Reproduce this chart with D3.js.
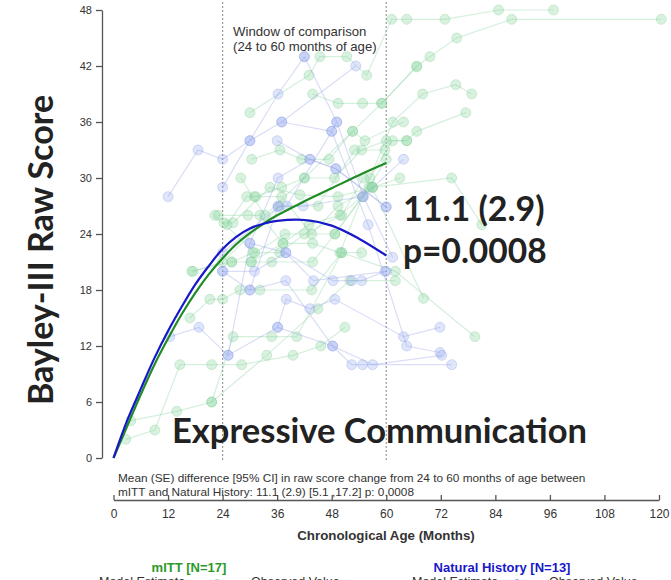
<!DOCTYPE html>
<html>
<head>
<meta charset="utf-8">
<script src="https://cdn.jsdelivr.net/npm/d3@7"></script>
<style>
  body { margin: 0; background: #fff; }
  svg text { font-family: "Liberation Sans", Arial, sans-serif; }
  .big { font-family: Lato, "Open Sans", sans-serif !important; font-weight: bold; fill: #222; }
</style>
</head>
<body>
<svg id="chart" width="671" height="580"></svg>
<script>
// model estimates (months / raw score)
var modelMonths = [0, 3, 6, 9, 12, 15, 18, 21, 24, 27, 30, 33, 36, 42, 48, 54, 60];
var mittModel = [0, 3.4, 6.8, 10.0, 12.8, 15.4, 17.7, 19.7, 21.4, 22.9, 24.1, 25.1, 26.0, 27.5, 28.9, 30.3, 31.6];
var nhModel = [0, 4.0, 7.4, 10.7, 13.6, 16.2, 18.6, 20.6, 22.4, 23.7, 24.6, 25.1, 25.4, 25.5, 24.9, 23.5, 21.7];

// observed values, one list of [month, score] per subject
var mittSubjects = [
  [[2.7, 2], [9.1, 3], [14.6, 10], [21.6, 10], [28.2, 10], [39.5, 11], [45.6, 12], [50.9, 14]],
  [[3.8, 4], [13.9, 5], [21.6, 6], [26.3, 13], [34.8, 13], [40.3, 13], [50.2, 22], [54.6, 22]],
  [[16.8, 15], [21.2, 17], [24, 17], [27.8, 18], [32.2, 18], [43.6, 18], [50.2, 22], [62, 20], [79.5, 13]],
  [[17.2, 20], [26, 21], [30.2, 21], [34.8, 21], [43.8, 21], [48.7, 24], [54.8, 28], [61.4, 36], [68, 39], [75.3, 40], [78.8, 39]],
  [[23, 26], [29.6, 26], [32.2, 26], [37.3, 23], [43.8, 23], [49.8, 22], [56.4, 30], [61.4, 34], [64.5, 34], [66.7, 35], [77.5, 37]],
  [[25, 25], [29.3, 28], [31, 28], [37, 28], [43.6, 24], [49.4, 27], [57, 29], [74.4, 30], [81, 25]],
  [[24.3, 25.2], [26.3, 25.2], [34.4, 29], [41, 28.2], [49.4, 28], [56.9, 29], [68.2, 17.1]],
  [[30.4, 32], [36.6, 33], [41.4, 32], [47.4, 32], [52.6, 35], [55.3, 34], [63.8, 36]],
  [[30, 37], [43, 41], [45.4, 43], [51.3, 43], [55.7, 41], [61.2, 47], [64.5, 47], [72.9, 47], [84.7, 48], [96.8, 48]],
  [[43.8, 39], [49.4, 38], [54.8, 38], [59, 38], [66.7, 42], [69.6, 43], [75.5, 45], [87.6, 47], [120.5, 47]],
  [[31.3, 28], [37, 29], [42, 30], [48.6, 30], [54.6, 33], [60, 34], [64.5, 34]],
  [[22.3, 26], [31.1, 22], [37.7, 24], [48.7, 24], [56.2, 29], [60, 32]],
  [[26, 21], [30.7, 22], [36.6, 22], [42, 24], [50.2, 26], [55, 30]],
  [[21.6, 6], [33.7, 11], [45, 16], [52, 19], [62, 19]],
  [[30.4, 21], [37.3, 23], [43, 25], [49.8, 26], [57, 29], [63, 30]],
  [[17.5, 20], [24, 21], [36.6, 27], [45, 27], [53, 33], [59.7, 33]],
  [[28, 30], [33.3, 26], [42, 30], [52.6, 35], [59, 38], [66.7, 41.9]]
];
var nhSubjects = [
  [[12, 28], [18.6, 33], [24, 32], [30, 34], [36.2, 39], [42, 43]],
  [[24, 29], [30, 34], [37, 36], [53.3, 42]],
  [[24, 20], [30, 18], [36.2, 27], [38.1, 27], [48, 35], [49.1, 36]],
  [[12.4, 13], [18.8, 14], [25.2, 11], [30, 23], [36.2, 30], [43.2, 32], [48.9, 31], [60, 26.9]],
  [[24, 22], [36.2, 26.9], [41.7, 27], [54.8, 28], [63.8, 32]],
  [[30, 23], [37.9, 22], [48.3, 19], [52.4, 19], [54.6, 19], [59.7, 20]],
  [[25.2, 11], [36.1, 14], [38, 17], [43.2, 16], [48.7, 17], [63.8, 13], [71.8, 14]],
  [[30, 18], [37.9, 19], [48.2, 12], [52.4, 10], [54.8, 10], [74.4, 10]],
  [[42, 43], [49.1, 36], [55, 28], [61.4, 21.5]],
  [[36, 34], [43.2, 32], [48.9, 31], [60, 26.9]],
  [[36.1, 14], [48.2, 12], [57, 10], [72.2, 11]],
  [[37, 36], [48, 35], [56, 25], [64.5, 12], [71.8, 11.3]],
  [[24, 20], [31, 20], [37.9, 22], [44, 19], [60, 20]]
];

var xTicks = [0, 12, 24, 36, 48, 60, 72, 84, 96, 108, 120];
var yTicks = [0, 6, 12, 18, 24, 30, 36, 42, 48];
var windowMonths = [24, 60];

var x = d3.scaleLinear().domain([0, 120]).range([113.5, 659]);
var y = d3.scaleLinear().domain([0, 48]).range([458, 10]);

var svg = d3.select('svg#chart');

var green = '#1f8c26', blue = '#1818c8';

// dotted window lines
svg.selectAll('line.win').data(windowMonths).enter().append('line')
  .attr('class', 'win')
  .attr('x1', d => x(d)).attr('x2', d => x(d))
  .attr('y1', 2).attr('y2', 462)
  .attr('stroke', '#999')
  .attr('stroke-width', 1.2)
  .attr('stroke-dasharray', '2,2');

var line = d3.line().x(d => x(d[0])).y(d => y(d[1]));

function drawSubjects(data, lineCol, fillCol, strokeCol) {
  var g = svg.append('g');
  g.selectAll('path').data(data).enter().append('path')
    .attr('d', line)
    .attr('fill', 'none')
    .attr('stroke', lineCol)
    .attr('stroke-width', 1.2);
  g.selectAll('g.pts').data(data).enter().append('g')
    .selectAll('circle').data(d => d).enter().append('circle')
    .attr('cx', d => x(d[0]))
    .attr('cy', d => y(d[1]))
    .attr('r', 5)
    .attr('fill', fillCol)
    .attr('stroke', strokeCol)
    .attr('stroke-width', 1);
}

drawSubjects(mittSubjects, 'rgba(150,215,170,0.4)', 'rgba(140,215,160,0.33)', 'rgba(120,200,140,0.3)');
drawSubjects(nhSubjects, 'rgba(150,160,230,0.35)', 'rgba(150,170,240,0.3)', 'rgba(130,150,230,0.3)');

// model curves
var curve = d3.line()
  .x((d, i) => x(modelMonths[i]))
  .y(d => y(d))
  .curve(d3.curveCatmullRom.alpha(0.5));

svg.append('path').datum(mittModel)
  .attr('d', curve).attr('fill', 'none')
  .attr('stroke', green).attr('stroke-width', 2.2);
svg.append('path').datum(nhModel)
  .attr('d', curve).attr('fill', 'none')
  .attr('stroke', blue).attr('stroke-width', 2.2);

// axes
var yAxis = svg.append('g')
  .attr('transform', 'translate(102,0)')
  .call(d3.axisLeft(y).tickValues(yTicks).tickSize(6).tickSizeOuter(0).tickPadding(4));
yAxis.selectAll('text').attr('font-size', 11).attr('fill', '#333');

var xAxis = svg.append('g')
  .attr('transform', 'translate(0,500)')
  .call(d3.axisBottom(x).tickValues(xTicks).tickSize(-5).tickSizeOuter(0).tickPadding(9));
xAxis.selectAll('text').attr('font-size', 12).attr('fill', '#333');

svg.selectAll('.domain, .tick line').attr('stroke', '#555').attr('stroke-width', 1.3);

// texts
svg.append('text').attr('x', 233).attr('y', 36)
  .attr('font-size', 13.2).attr('fill', '#333').text('Window of comparison');
svg.append('text').attr('x', 233).attr('y', 51)
  .attr('font-size', 13.2).attr('fill', '#333').text('(24 to 60 months of age)');

svg.append('text').attr('class', 'big').attr('x', 403).attr('y', 221)
  .attr('font-size', 34).text('11.1 (2.9)');
svg.append('text').attr('class', 'big').attr('x', 403).attr('y', 263)
  .attr('font-size', 33.5).text('p=0.0008');

svg.append('text').attr('class', 'big').attr('x', 172).attr('y', 443)
  .attr('font-size', 34.5).attr('fill', '#000').text('Expressive Communication');

svg.append('text').attr('class', 'big')
  .attr('transform', 'translate(53,250) rotate(-90)')
  .attr('text-anchor', 'middle')
  .attr('font-size', 34).attr('fill', '#000').text('Bayley-III Raw Score');

svg.append('text').attr('x', 118).attr('y', 482)
  .attr('font-size', 11.8).attr('fill', '#333')
  .text('Mean (SE) difference [95% CI] in raw score change from 24 to 60 months of age between');
svg.append('text').attr('x', 118).attr('y', 496)
  .attr('font-size', 11.8).attr('fill', '#333')
  .text('mITT and Natural History: 11.1 (2.9) [5.1 ,17.2] p: 0.0008');

svg.append('text').attr('x', 386).attr('y', 540)
  .attr('text-anchor', 'middle').attr('font-size', 13.3).attr('font-weight', 'bold').attr('fill', '#333')
  .text('Chronological Age (Months)');

// legend
svg.append('text').attr('x', 189).attr('y', 572)
  .attr('text-anchor', 'middle').attr('font-size', 13).attr('font-weight', 'bold').attr('fill', '#2a9a2a')
  .text('mITT [N=17]');
svg.append('text').attr('x', 502).attr('y', 572)
  .attr('text-anchor', 'middle').attr('font-size', 13).attr('font-weight', 'bold').attr('fill', blue)
  .text('Natural History [N=13]');

var legendItems = [
  {lx: 43, tx: 99, col: green, kind: 'line', label: 'Model Estimate'},
  {lx: 217, tx: 251, col: 'rgba(120,200,140,0.6)', kind: 'dot', label: 'Observed Value'},
  {lx: 348, tx: 412, col: blue, kind: 'line', label: 'Model Estimate'},
  {lx: 517, tx: 549, col: 'rgba(120,140,225,0.7)', kind: 'dot', label: 'Observed Value'}
];
var lg = svg.selectAll('g.leg').data(legendItems).enter().append('g');
lg.filter(d => d.kind == 'line').append('line')
  .attr('x1', d => d.lx).attr('x2', d => d.lx + 36)
  .attr('y1', 582).attr('y2', 582)
  .attr('stroke', d => d.col).attr('stroke-width', 2);
lg.filter(d => d.kind == 'dot').append('circle')
  .attr('cx', d => d.lx).attr('cy', 582).attr('r', 3)
  .attr('fill', d => d.col);
lg.append('text').attr('x', d => d.tx).attr('y', 586)
  .attr('font-size', 12.5).attr('fill', '#333')
  .text(d => d.label);
</script>
</body>
</html>
